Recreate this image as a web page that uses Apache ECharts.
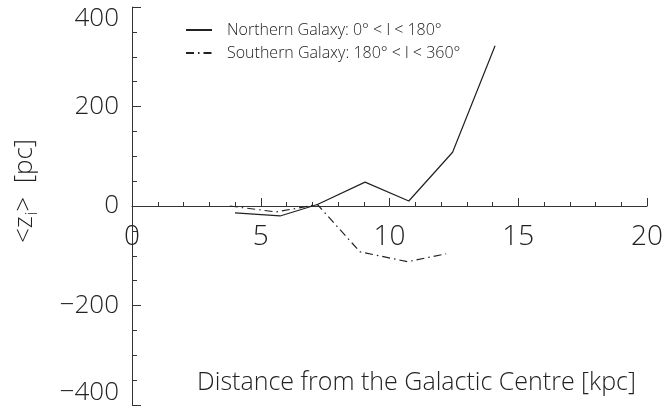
<!DOCTYPE html>
<html>
<head>
<meta charset="utf-8">
<script src="https://cdn.jsdelivr.net/npm/echarts@6/dist/echarts.min.js"></script>
<style>
  html, body { margin: 0; padding: 0; background: #fff; }
  #chart { width: 664px; height: 412px; }
</style>
</head>
<body>
<div id="chart"></div>
<script>
// Mean vertical offset <z_i> of the disc versus galactocentric distance
const northDist = [4.0, 5.75, 7.2, 9.05, 10.75, 12.45, 14.1];
const northZ    = [-14, -20, 3, 48, 10, 108, 322];
const southDist = [3.8, 5.6, 7.2, 8.85, 10.7, 12.2];
const southZ    = [0, -12, 3, -92, -112, -96];

const northName = 'Northern Galaxy: 0° < l < 180°';
const southName = 'Southern Galaxy: 180° < l < 360°';

const FONT = '"Open Sans", "DejaVu Sans", sans-serif';
const INK = '#222';

// plot box; the distance axis runs through z = 0, half way down the box
const GRID_TOP = 7, GRID_BOTTOM = 7, CANVAS_H = 412;
const midOffset = -(CANVAS_H - GRID_TOP - GRID_BOTTOM) / 2;

function pairs(xs, ys) { return xs.map((x, i) => [x, ys[i]]); }

const chart = echarts.init(document.getElementById('chart'));
chart.setOption({
  animation: false,
  backgroundColor: '#fff',
  grid: { left: 132, right: 17, top: GRID_TOP, bottom: GRID_BOTTOM, containLabel: false, outerBoundsMode: 'none' },
  legend: {
    left: 180, top: 17, orient: 'vertical', itemGap: 7,
    itemWidth: 26, itemHeight: 12,
    itemStyle: { opacity: 0 },
    textStyle: { fontFamily: FONT, fontWeight: 300, fontSize: 16, color: INK, padding: [0, 0, 0, 10] },
    data: [northName, southName]
  },
  xAxis: {
    type: 'value', min: 0, max: 20, interval: 5,
    position: 'bottom', offset: midOffset,
    name: 'Distance from the Galactic Centre [kpc]',
    nameLocation: 'middle', nameGap: 164,
    nameTextStyle: { fontFamily: FONT, fontWeight: 300, fontSize: 25, color: INK, padding: [0, 0, 0, 54] },
    axisLine: { onZero: false, lineStyle: { color: '#333', width: 1 } },
    axisTick: { inside: true, length: 8, lineStyle: { color: '#333' } },
    minorTick: { show: true, splitNumber: 5, length: 4, lineStyle: { color: '#333' } },
    splitLine: { show: false },
    axisLabel: { fontFamily: FONT, fontWeight: 300, fontSize: 28, color: INK, margin: 17 }
  },
  yAxis: {
    type: 'value', min: -400, max: 400, interval: 200,
    name: '{a|<z}{s|i}{a|>  [pc]}',
    nameLocation: 'middle', nameRotate: 90, nameGap: 92,
    nameTextStyle: {
      color: INK,
      padding: [0, 0, 0, 30],
      rich: {
        a: { fontFamily: FONT, fontWeight: 300, fontSize: 26, color: INK },
        s: { fontFamily: FONT, fontWeight: 300, fontSize: 16, color: INK, padding: [14, 0, 0, 1] }
      }
    },
    axisLine: { onZero: false, lineStyle: { color: '#333', width: 1 } },
    axisTick: { inside: true, length: 9, lineStyle: { color: '#333' } },
    minorTick: { show: true, splitNumber: 4, length: 5, lineStyle: { color: '#333' } },
    splitLine: { show: false },
    axisLabel: {
      fontFamily: FONT, fontWeight: 300, fontSize: 26, color: INK, margin: 13, lineHeight: 24,
      formatter: function (v) {
        const s = v < 0 ? '\u2212' + Math.abs(v) : String(v);
        if (v === 400) return '\n' + s;
        if (v === -400) return s + '\n';
        return s;
      }
    }
  },
  series: [
    {
      name: northName, type: 'line', symbol: 'none',
      data: pairs(northDist, northZ),
      lineStyle: { color: INK, width: 1.2, type: 'solid' },
      itemStyle: { color: INK }
    },
    {
      name: southName, type: 'line', symbol: 'none',
      data: pairs(southDist, southZ),
      lineStyle: { color: INK, width: 1.2, type: [8, 4, 1.5, 4] },
      itemStyle: { color: INK }
    }
  ]
});
</script>
</body>
</html>
